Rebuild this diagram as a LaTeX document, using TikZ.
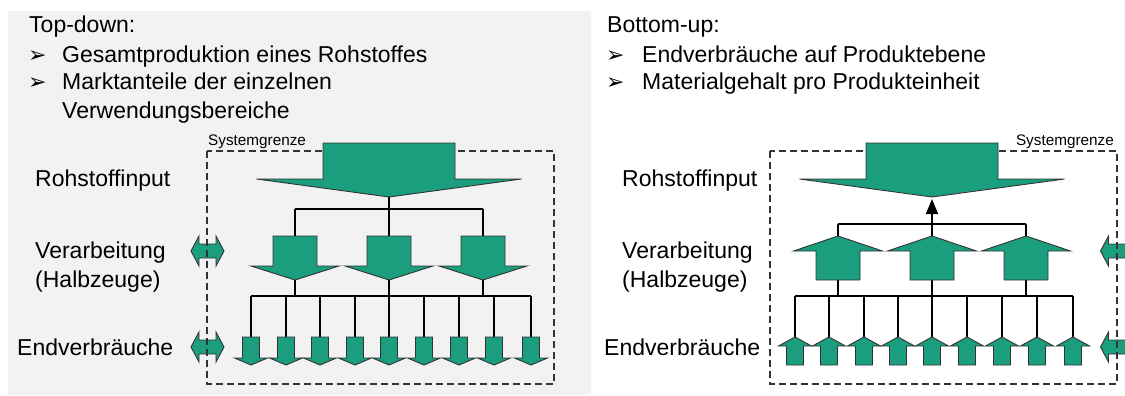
\documentclass[tikz,border=0pt]{standalone}
\usepackage{fontspec}
\setmainfont{Liberation Sans}
\newfontfamily\dejavu{DejaVu Sans}
\usetikzlibrary{arrows.meta}
\definecolor{bggray}{HTML}{F2F2F2}
\definecolor{arrowgreen}{HTML}{1B9E7E}
\newcommand\flowarr[6]{%
  \draw[arrowfill] ({#1-#2},#4) -- ({#1+#2},#4) -- ({#1+#2},#5) -- ({#1+#3},#5) -- (#1,#6) -- ({#1-#3},#5) -- ({#1-#2},#5) -- cycle;}
\newcommand\dblarrowshape[2]{%
  \draw[arrowfill] ({#1-16.5},#2) -- ({#1-8.5},{#2-15}) -- ({#1-8.5},{#2-7}) -- ({#1+8.5},{#2-7}) -- ({#1+8.5},{#2-15}) -- ({#1+16.5},#2) -- ({#1+8.5},{#2+15}) -- ({#1+8.5},{#2+7}) -- ({#1-8.5},{#2+7}) -- ({#1-8.5},{#2+15}) -- cycle;}
\begin{document}
\begin{tikzpicture}[x=1pt,y=-1pt,
  arrowfill/.style={fill=arrowgreen, draw=black!80, line width=0.9pt, line join=miter},
  conn/.style={draw=black, line width=1.6pt},
  sysbox/.style={draw=black!80, dash pattern=on 7pt off 4pt, line width=1.2pt},
  txt/.style={inner sep=0pt, anchor=base west, font=\fontsize{23}{27.5}\selectfont},
  bul/.style={inner sep=0pt, anchor=base west, font=\dejavu\fontsize{22}{24}\selectfont},
  sys/.style={inner sep=0pt, font=\fontsize{15.3}{17}\selectfont}]
\useasboundingbox (0,0) rectangle (1125,396);
\clip (0,0) rectangle (1125,396);
\fill[white] (0,0) rectangle (1125,396);
\fill[bggray] (8,11) rectangle (591,395);

% ---------- texts ----------
\node[txt] (td) at (29,33) {Top-down:};
\node[bul] (tb1) at (28,63) {➢};
\node[txt] (tt1) at (62,63) {Gesamtproduktion eines Rohstoffes};
\node[bul] (tb2) at (28,90) {➢};
\node[txt] (tt2) at (62,90) {Marktanteile der einzelnen};
\node[txt] (tt3) at (62,118) {Verwendungsbereiche};

\node[txt] (bu) at (607,33) {Bottom-up:};
\node[bul] (bb1) at (606,63) {➢};
\node[txt] (bt1) at (642,63) {Endverbräuche auf Produktebene};
\node[bul] (bb2) at (606,90) {➢};
\node[txt] (bt2) at (642,90) {Materialgehalt pro Produkteinheit};

\node[txt] (lr) at (35,186) {Rohstoffinput};
\node[txt] (lv) at (35,258) {Verarbeitung};
\node[txt] (lh) at (35,287) {(Halbzeuge)};
\node[txt] (le) at (17,355) {Endverbräuche};

\node[txt] (rr) at (622,186) {Rohstoffinput};
\node[txt] (rv) at (622,258) {Verarbeitung};
\node[txt] (rh) at (622,287) {(Halbzeuge)};
\node[txt] (re) at (604,355) {Endverbräuche};

\node[sys, anchor=base west] (lsys) at (208,145) {Systemgrenze};
\node[sys, anchor=base east] (rsys) at (1114,145) {Systemgrenze};

% ---------- boundary exchange arrows ----------
\dblarrowshape{207.5}{251}
\dblarrowshape{207.5}{347}
\dblarrowshape{1117}{251}
\dblarrowshape{1117}{347}

% ---------- system boundaries ----------
\draw[sysbox] (207,151) rectangle (554,384);
\draw[sysbox] (770,151) rectangle (1117,384);

% ---------- left tree (top-down) ----------
\coordinate (LBtip) at (389,197);
\coordinate (LBj) at (389,209);
\foreach \i/\x in {1/295,2/389,3/483}{
  \coordinate (LMh\i) at (\x,209);
  \coordinate (LMtop\i) at (\x,236);
  \coordinate (LMtip\i) at (\x,280);
  \coordinate (LMj\i) at (\x,296);
}
\foreach \k/\sx in {0/251,1/286,2/320,3/355,4/389,5/424,6/459,7/494,8/531}{
  \coordinate (LSh\k) at (\sx,296);
  \coordinate (LStop\k) at (\sx,337);
}
\draw[conn] (LBtip) -- (LBj);
\draw[conn] (LMh1) -- (LMh3);
\draw[conn] (LSh0) -- (LSh8);
\foreach \i in {1,2,3}{
  \draw[conn] (LMh\i) -- (LMtop\i);
  \draw[conn] (LMtip\i) -- (LMj\i);
}
\foreach \k in {0,...,8}{\draw[conn] (LSh\k) -- (LStop\k);}

\flowarr{389}{66}{132.5}{143}{179}{197}
\foreach \x in {295,389,483}{\flowarr{\x}{22}{44}{236}{266}{280}}
\foreach \sx in {251,286,320,355,389,424,459,494,531}{
  \flowarr{\sx}{8.5}{16.5}{337}{358}{365}
}

% ---------- right tree (bottom-up) ----------
\coordinate (RBtip) at (932,199);
\foreach \i/\x in {1/838,2/932,3/1026}{
  \coordinate (RMh\i) at (\x,224);
  \coordinate (RMtip\i) at (\x,236);
  \coordinate (RMbot\i) at (\x,280);
  \coordinate (RMj\i) at (\x,296);
}
\foreach \k/\sx in {0/795,1/829,2/864,3/898,4/932,5/967,6/1002,7/1037,8/1073}{
  \coordinate (RSh\k) at (\sx,296);
  \coordinate (RStip\k) at (\sx,337);
}
\draw[conn] (RMh1) -- (RMh3);
\draw[conn] (RSh0) -- (RSh8);
\foreach \i in {1,2,3}{
  \draw[conn] (RMh\i) -- (RMtip\i);
  \draw[conn] (RMbot\i) -- (RMj\i);
}
\foreach \k in {0,...,8}{\draw[conn] (RSh\k) -- (RStip\k);}
\draw[conn, -{Triangle[length=15pt,width=12pt]}] (RMh2) -- (RBtip);

\flowarr{932}{66}{132.5}{143}{179}{197}
\foreach \x in {838,932,1026}{\flowarr{\x}{22}{44.5}{280}{251}{236}}
\foreach \sx in {795,829,864,898,932,967,1002,1037,1073}{
  \flowarr{\sx}{8.5}{16.5}{365}{346}{337}
}
\end{tikzpicture}
\end{document}
